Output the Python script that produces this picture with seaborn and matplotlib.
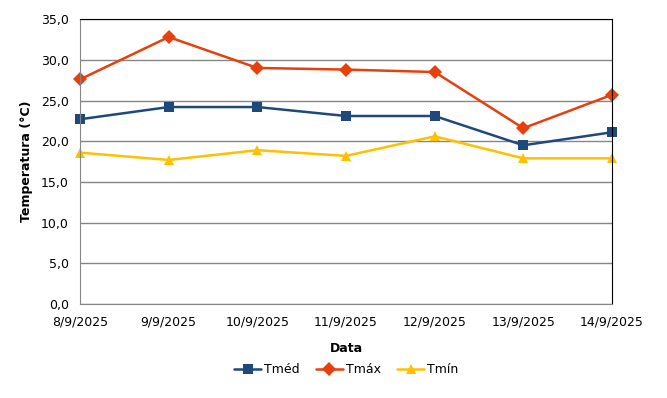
import numpy as np
import pandas as pd
import seaborn as sns
import matplotlib.pyplot as plt
from matplotlib.ticker import FuncFormatter

datas = ['8/9/2025', '9/9/2025', '10/9/2025', '11/9/2025', '12/9/2025', '13/9/2025', '14/9/2025']
tmed = [22.7, 24.2, 24.2, 23.1, 23.1, 19.5, 21.1]
tmax = [27.6, 32.8, 29.0, 28.8, 28.5, 21.6, 25.7]
tmin = [18.6, 17.7, 18.9, 18.2, 20.6, 17.9, 17.9]

df = pd.DataFrame({'Data': datas, 'Tméd': tmed, 'Tmáx': tmax, 'Tmín': tmin})
df['pos'] = np.arange(len(datas))
dfl = df.melt(id_vars=['Data', 'pos'], var_name='serie', value_name='temp')

sns.set_style('white')
plt.rcParams['font.family'] = ['DejaVu Sans']
plt.rcParams['text.color'] = 'black'
plt.rcParams['axes.labelcolor'] = 'black'
plt.rcParams['xtick.labelcolor'] = 'black'
plt.rcParams['ytick.labelcolor'] = 'black'

cores = {'Tméd': '#1F497D', 'Tmáx': '#E8400C', 'Tmín': '#FFC000'}
marcadores = {'Tméd': 's', 'Tmáx': 'D', 'Tmín': '^'}

fig = plt.figure(figsize=(6.67, 3.98), dpi=100)
ax = fig.add_axes([0.12, 0.236, 0.7975, 0.716])
sns.lineplot(data=dfl, x='pos', y='temp', hue='serie', style='serie',
             palette=cores, markers=marcadores, dashes=False, linewidth=1.8,
             markersize=7, markeredgewidth=0, ax=ax)
for ln in ax.lines:
    ln.set_clip_on(False)

ax.set_xlim(0, 6)
ax.set_ylim(0, 35)
ax.set_yticks(np.arange(0, 36, 5))
ax.yaxis.set_major_formatter(FuncFormatter(lambda v, p: f'{v:.1f}'.replace('.', ',')))
ax.set_xticks(df['pos'])
ax.set_xticklabels(datas)
ax.grid(axis='y', color='#868686', linewidth=1)
ax.set_axisbelow(True)
ax.tick_params(axis='both', direction='out', length=4, color='#868686', labelsize=9, pad=4)
for s in ['left', 'bottom']:
    ax.spines[s].set_color('#868686')
for s in ['top', 'right']:
    ax.spines[s].set_color('black')
ax.set_xlabel('Data', fontsize=9, fontweight='bold', labelpad=10)
ax.set_ylabel('Temperatura (°C)', fontsize=9, fontweight='bold', labelpad=6)

h, l = ax.get_legend_handles_labels()
ax.legend(h, l, loc='upper center', bbox_to_anchor=(0.5, -0.19), ncol=3,
          frameon=False, fontsize=9, handlelength=2.2, handletextpad=0.2,
          columnspacing=1.3, borderaxespad=0)

fig.savefig('out.png', dpi=100)
